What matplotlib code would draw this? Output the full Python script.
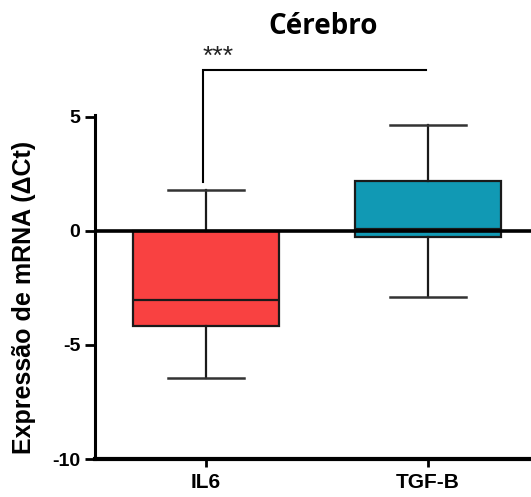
import matplotlib.pyplot as plt

# data (delta Ct)
genes = ['IL6', 'TGF-B']
whisker_low = [-6.45, -2.9]
q1 = [-4.17, -0.25]
median = [-3.03, 0.08]
q3 = [0.0, 2.19]
whisker_high = [1.8, 4.65]
colors = ['#F94141', '#1199B4']

plt.rcParams['font.family'] = ['Liberation Sans', 'DejaVu Sans']

fig = plt.figure(figsize=(5.31, 4.97), dpi=100)
ax = fig.add_axes([95 / 531, 38 / 497, 436 / 531, 459 / 497])

stats = []
for i, g in enumerate(genes):
    stats.append({'label': g, 'whislo': whisker_low[i], 'q1': q1[i], 'med': median[i],
                  'q3': q3[i], 'whishi': whisker_high[i], 'fliers': []})

bp = ax.bxp(stats, positions=[0, 1], widths=0.66, patch_artist=True, showfliers=False,
            capwidths=0.34,
            boxprops=dict(linewidth=1.6, edgecolor='#1a1a1a'),
            medianprops=dict(color='#1a1a1a', linewidth=1.6),
            whiskerprops=dict(color='#1a1a1a', linewidth=1.6),
            capprops=dict(color='#333333', linewidth=1.8))
for patch, c in zip(bp['boxes'], colors):
    patch.set_facecolor(c)

ax.axhline(0, color='black', linewidth=2.6, zorder=5)

# significance bracket
ax.plot([-0.015, -0.015, 0.99], [2.15, 7.06, 7.06], color='black', linewidth=1.5,
        solid_joinstyle='miter', clip_on=False)
ax.text(-0.015, 7.32, '***', fontsize=19, ha='left', va='baseline', color='#222222')

ax.set_xlim(-0.5, 1.464)
ax.set_ylim(-10, 10.13)
ax.spines['top'].set_visible(False)
ax.spines['right'].set_visible(False)
ax.spines['left'].set_bounds(-10, 5.1)
ax.spines['left'].set_linewidth(2.2)
ax.spines['bottom'].set_linewidth(3)

ax.set_yticks([-10, -5, 0, 5])
ax.set_yticklabels(['-10', '-5', '0', '5'], fontsize=14, fontweight='bold')
ax.set_xticks([0, 1])
ax.set_xticklabels(genes, fontsize=15, fontweight='bold')
ax.tick_params(axis='y', length=7, width=2)
ax.tick_params(axis='x', length=6, width=2, pad=4)

ax.set_ylabel('Expressão de mRNA (ΔCt)', fontsize=18, fontweight='bold')
ax.yaxis.set_label_coords(-0.135, 0.353)
fig.text(323 / 531, 1 - 26 / 497, 'Cérebro', fontsize=20, fontweight='bold',
         ha='center', va='center', family=['Open Sans', 'DejaVu Sans'])

fig.savefig('out.png', dpi=100)
